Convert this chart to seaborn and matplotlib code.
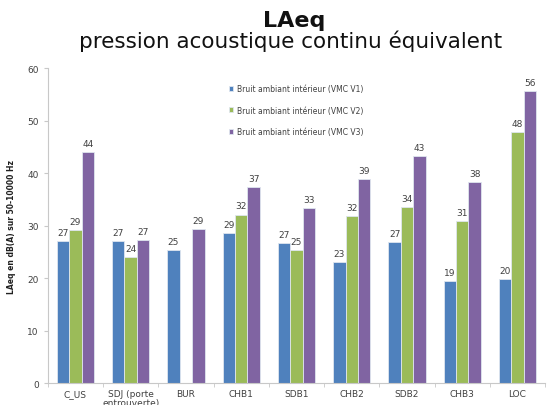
import matplotlib
matplotlib.use("Agg")
import matplotlib.pyplot as plt
import seaborn as sns
import pandas as pd
import numpy as np

# Data
pieces = ["C_US", "SDJ (porte\nentrouverte)", "BUR", "CHB1", "SDB1",
          "CHB2", "SDB2", "CHB3", "LOC"]
series = ["Bruit ambiant intérieur (VMC V1)",
          "Bruit ambiant intérieur (VMC V2)",
          "Bruit ambiant intérieur (VMC V3)"]
vmc_v1 = [27.0, 27.0, 25.3, 28.6, 26.7, 23.0, 26.9, 19.4, 19.9]
vmc_v2 = [29.2, 24.1, np.nan, 32.1, 25.3, 31.8, 33.5, 30.8, 47.8]
vmc_v3 = [44.0, 27.2, 29.4, 37.3, 33.3, 38.9, 43.2, 38.3, 55.6]
colors = ["#4F81BD", "#9BBB59", "#8064A2"]

rows = []
for name, vals in zip(series, [vmc_v1, vmc_v2, vmc_v3]):
    for p, v in zip(pieces, vals):
        rows.append({"piece": p, "serie": name, "laeq": v})
df = pd.DataFrame(rows).dropna()

sns.set_style("white")
plt.rcParams["font.family"] = ["DejaVu Sans"]

fig = plt.figure(figsize=(5.49, 4.06), dpi=100)
ax = fig.add_axes([0.087, 0.0534, 0.906, 0.7766])

sns.barplot(data=df, x="piece", y="laeq", hue="serie", order=pieces,
            hue_order=series, palette=colors, width=0.675, ax=ax,
            errorbar=None, saturation=1, edgecolor="#dfe6ef", linewidth=0.6)

for c in ax.containers:
    ax.bar_label(c, fmt="%.0f", fontsize=6.5, color="#404040", padding=3)

ax.set_ylim(0, 60)
ax.set_xlim(-0.5, len(pieces) - 0.5)
ax.set_yticks(range(0, 61, 10))
ax.set_xlabel("")
ax.set_ylabel("LAeq en dB(A) sur 50-10000 Hz", fontsize=5.5,
              fontweight="bold", color="#202020", labelpad=8)

# Excel-like axis styling
for s in ["top", "right"]:
    ax.spines[s].set_visible(False)
ax.spines["left"].set_color("#c8c8c8")
ax.spines["bottom"].set_color("#c8c8c8")
ax.tick_params(axis="y", labelsize=6.5, colors="#404040", length=3,
               direction="out", left=True, color="#c8c8c8")
ax.tick_params(axis="x", which="major", labelsize=6.5, colors="#404040",
               length=0, pad=4)
for lab in ax.get_xticklabels():
    lab.set_linespacing(0.95)
ax.set_xticks(np.arange(-0.5, len(pieces) + 0.5, 1), minor=True)
ax.tick_params(axis="x", which="minor", length=3, color="#c8c8c8",
               bottom=True, direction="out")
ax.grid(False)

leg = ax.legend(loc="upper left", bbox_to_anchor=(0.35, 0.97), frameon=False,
                fontsize=5.5, handlelength=0.6, handleheight=0.6,
                handletextpad=0.5, labelspacing=1.6, labelcolor="#404040")

fig.text(0.535, 0.933, "LAeq", ha="center", va="baseline", fontsize=16,
         fontweight="bold", color="#111111")
fig.text(0.530, 0.881, "pression acoustique continu équivalent", ha="center",
         va="baseline", fontsize=15.5, color="#111111")

fig.savefig("out.png", dpi=100)
